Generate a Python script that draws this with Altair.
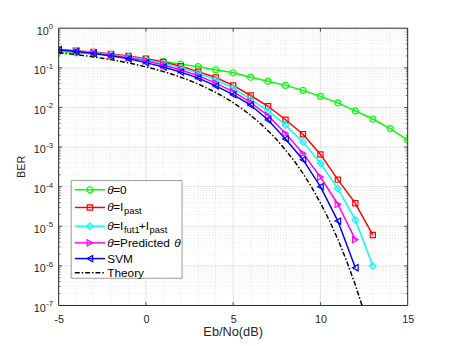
import altair as alt
import pandas as pd

# ---------------- data ----------------
snr_theta0 = [-5, -4, -3, -2, -1, 0, 1, 2, 3, 4, 5, 6, 7, 8, 9, 10, 11, 12, 13, 14, 15]
ber_theta0 = [0.26, 0.24, 0.225, 0.205, 0.185, 0.165, 0.145, 0.124, 0.107, 0.089, 0.075,
              0.058, 0.046, 0.036, 0.027, 0.019, 0.013, 0.0082, 0.0051, 0.0029, 0.0015]

snr_past = [-5, -4, -3, -2, -1, 0, 1, 2, 3, 4, 5, 6, 7, 8, 9, 10, 11, 12, 13]
ber_past = [0.29, 0.27, 0.25, 0.225, 0.2, 0.17, 0.14, 0.11, 0.08, 0.057, 0.036,
            0.02, 0.0107, 0.0049, 0.0021, 6.5e-4, 1.5e-4, 3.8e-5, 6e-6]

snr_fut = [-5, -4, -3, -2, -1, 0, 1, 2, 3, 4, 5, 6, 7, 8, 9, 10, 11, 12, 13]
ber_fut = [0.285, 0.265, 0.245, 0.215, 0.19, 0.16, 0.13, 0.1, 0.073, 0.05, 0.031,
           0.016, 0.0082, 0.0036, 0.00135, 3.9e-4, 8.9e-5, 1.45e-5, 1.0e-6]

snr_pred = [-5, -4, -3, -2, -1, 0, 1, 2, 3, 4, 5, 6, 7, 8, 9, 10, 11, 12]
ber_pred = [0.28, 0.26, 0.235, 0.205, 0.18, 0.15, 0.118, 0.088, 0.063, 0.041, 0.025,
            0.0135, 0.0062, 0.0022, 6.9e-4, 1.75e-4, 3.6e-5, 4.6e-6]

snr_svm = [-5, -4, -3, -2, -1, 0, 1, 2, 3, 4, 5, 6, 7, 8, 9, 10, 11, 12]
ber_svm = [0.285, 0.26, 0.23, 0.2, 0.17, 0.135, 0.105, 0.078, 0.055, 0.035, 0.021,
           0.0115, 0.0048, 0.0016, 4.8e-4, 1.0e-4, 1.35e-5, 9e-7]

theory_snr = [-5, -4.5, -4, -3.5, -3, -2.5, -2, -1.5, -1, -0.5, 0, 0.5, 1, 1.5, 2, 2.5,
              3, 3.5, 4, 4.5, 5, 5.5, 6, 6.5, 7, 7.5, 8, 8.5, 9, 9.5, 10, 10.5, 11,
              11.5, 12, 12.5]
theory_ber = [0.24, 0.228, 0.215, 0.202, 0.188, 0.174, 0.161, 0.147, 0.133, 0.119,
              0.106, 0.093, 0.0806, 0.0688, 0.0579, 0.0479, 0.0389, 0.0308, 0.0239,
              0.018, 0.0132, 0.0093, 0.00635, 0.00415, 0.00259, 0.00153, 8.4e-4,
              4.45e-4, 2.16e-4, 9.6e-5, 3.9e-5, 1.43e-5, 4.7e-6, 1.33e-6, 3.3e-7, 6.9e-8]

x_ticks = [-5, 0, 5, 10, 15]
x_minor = [-4, -3, -2, -1, 1, 2, 3, 4, 6, 7, 8, 9, 11, 12, 13, 14]
y_ticks = [1e-7, 1e-6, 1e-5, 1e-4, 1e-3, 1e-2, 1e-1, 1]
y_exponents = ['-7', '-6', '-5', '-4', '-3', '-2', '-1', '0']
y_minor = [m * 10.0 ** k for k in range(-7, 0) for m in range(2, 10)]

# ---------------- layout ----------------
W, H = 355, 282
FONT = 'Liberation Sans'
AX = '#262626'

xs = alt.Scale(domain=[-5, 15], nice=False, zero=False)
ys = alt.Scale(type='log', domain=[1e-7, 1], nice=False)

xax = alt.Axis(values=x_ticks, labelExpr="'' + datum.value", tickSize=0, grid=False,
               domain=False, labelFontSize=11, labelColor=AX, labelFont=FONT,
               labelPadding=8, labelFlush=False, title='')
yax = alt.Axis(values=y_ticks, labels=False, tickSize=0, grid=False,
               domain=False, title='')


def X(f='x'):
    return alt.X(f + ':Q', scale=xs, axis=xax)


def Y(f='y'):
    return alt.Y(f + ':Q', scale=ys, axis=yax)


one = pd.DataFrame({'a': [0]})
layers = []

# white plot background
layers.append(alt.Chart(one).mark_rect(color='white').encode(
    x=alt.value(0), x2=alt.value(W), y=alt.value(0), y2=alt.value(H)))

# minor grid
layers.append(alt.Chart(pd.DataFrame({'x': x_minor})).mark_rule(
    color='#d9d9d9', strokeWidth=0.7, strokeDash=[1, 2]).encode(
    x=X(), y=alt.value(0), y2=alt.value(H)))
layers.append(alt.Chart(pd.DataFrame({'y': y_minor})).mark_rule(
    color='#d9d9d9', strokeWidth=0.7, strokeDash=[1, 2]).encode(
    y=Y(), x=alt.value(0), x2=alt.value(W)))
# major grid
layers.append(alt.Chart(pd.DataFrame({'x': x_ticks[1:-1]})).mark_rule(
    color='#e3e3e3', strokeWidth=1).encode(x=X(), y=alt.value(0), y2=alt.value(H)))
layers.append(alt.Chart(pd.DataFrame({'y': y_ticks[1:-1]})).mark_rule(
    color='#e3e3e3', strokeWidth=1).encode(y=Y(), x=alt.value(0), x2=alt.value(W)))

# series
series = [
    (snr_theta0, ber_theta0, '#00ff00', 'circle', 38),
    (snr_past, ber_past, '#ff0000', 'square', 28),
    (snr_fut, ber_fut, '#00ffff', 'diamond', 45),
    (snr_pred, ber_pred, '#ff00ff', 'triangle-right', 42),
    (snr_svm, ber_svm, '#0000ff', 'triangle-left', 42),
]
for sx, sy, col, shp, sz in series:
    base = alt.Chart(pd.DataFrame({'x': sx, 'y': sy}))
    layers.append(base.mark_line(color=col, strokeWidth=1.5, clip=True).encode(x=X(), y=Y()))
    layers.append(base.mark_point(shape=shp, size=sz, color=col, filled=False,
                                  strokeWidth=1.2, opacity=1, clip=True).encode(x=X(), y=Y()))

layers.append(alt.Chart(pd.DataFrame({'x': theory_snr, 'y': theory_ber})).mark_line(
    color='black', strokeWidth=1.5, strokeDash=[5, 2, 1.5, 2], clip=True).encode(x=X(), y=Y()))

# inward ticks
TL = 3.5
tx = pd.DataFrame({'x': x_ticks[1:-1]})
layers.append(alt.Chart(tx).mark_rule(color=AX, strokeWidth=0.8).encode(
    x=X(), y=alt.value(H), y2=alt.value(H - TL)))
layers.append(alt.Chart(tx).mark_rule(color=AX, strokeWidth=0.8).encode(
    x=X(), y=alt.value(0), y2=alt.value(TL)))
ty = pd.DataFrame({'y': y_ticks[1:-1]})
layers.append(alt.Chart(ty).mark_rule(color=AX, strokeWidth=0.8).encode(
    y=Y(), x=alt.value(0), x2=alt.value(TL)))
layers.append(alt.Chart(ty).mark_rule(color=AX, strokeWidth=0.8).encode(
    y=Y(), x=alt.value(W - TL), x2=alt.value(W)))
tym = pd.DataFrame({'y': y_minor})
layers.append(alt.Chart(tym).mark_rule(color=AX, strokeWidth=0.6).encode(
    y=Y(), x=alt.value(0), x2=alt.value(2)))
layers.append(alt.Chart(tym).mark_rule(color=AX, strokeWidth=0.6).encode(
    y=Y(), x=alt.value(W - 2), x2=alt.value(W)))

# box
layers.append(alt.Chart(one).mark_rect(fillOpacity=0, stroke=AX, strokeWidth=1).encode(
    x=alt.value(0), x2=alt.value(W), y=alt.value(0), y2=alt.value(H)))

# y tick labels: "10" with a superscript exponent
ylab = pd.DataFrame({'y': y_ticks, 'e': y_exponents})
ylab_neg = ylab[ylab['e'] != '0']
ylab_zero = ylab[ylab['e'] == '0']
layers.append(alt.Chart(ylab_neg).mark_text(text='10', font=FONT, fontSize=11, color=AX,
                                            align='right', baseline='middle', dy=3.5).encode(
    y=Y(), x=alt.value(-13.2)))
layers.append(alt.Chart(ylab_zero).mark_text(text='10', font=FONT, fontSize=11, color=AX,
                                             align='right', baseline='middle', dy=3.5).encode(
    y=Y(), x=alt.value(-10.0)))
layers.append(alt.Chart(ylab).mark_text(font=FONT, fontSize=8, color=AX,
                                        align='right', baseline='middle', dy=-1).encode(
    y=Y(), x=alt.value(-5.6), text='e:N'))

# axis titles
layers.append(alt.Chart(one).mark_text(text='Eb/No(dB)', font=FONT, fontSize=13, color=AX,
                                       baseline='middle', align='center').encode(
    x=alt.value(W / 2), y=alt.value(H + 27)))
layers.append(alt.Chart(one).mark_text(text='BER', font=FONT, fontSize=11, color=AX,
                                       baseline='middle', align='center', angle=270).encode(
    x=alt.value(-37.5), y=alt.value(H / 2)))

# legend
LX0, LX1, LY0, LY1 = 12.8, 125.5, 155, 254.3
layers.append(alt.Chart(one).mark_rect(color='white', stroke='#808080', strokeWidth=0.8).encode(
    x=alt.value(LX0), x2=alt.value(LX1), y=alt.value(LY0), y2=alt.value(LY1)))

rows_y = [164.3, 182.3, 201.3, 218.3, 234.3, 248.8]
leg_styles = [('#00ff00', 'circle', 38), ('#ff0000', 'square', 28), ('#00ffff', 'diamond', 45),
              ('#ff00ff', 'triangle-right', 42), ('#0000ff', 'triangle-left', 42), ('black', None, 0)]
FS, SS = 12, 9.5
leg_text = [
    [('θ', 49.5, 0, FS, True), ('=0', 55.5, 0, FS, False)],
    [('θ', 49.5, -0.5, FS, True), ('=I', 55.5, -0.5, FS, False), ('past', 66.5, 4, SS, False)],
    [('θ', 49.5, -0.5, FS, True), ('=I', 55.5, -0.5, FS, False), ('fut1', 66.5, 4, SS, False),
     ('+I', 81.5, -0.5, FS, False), ('past', 92.5, 4, SS, False)],
    [('θ', 49.5, 0, FS, True), ('=Predicted', 55.5, 0, FS, False), ('θ', 117.5, 0, FS, True)],
    [('SVM', 49.5, 0, FS, False)],
    [('Theory', 49.5, 0, FS, False)],
]
for ry, (col, shp, sz), pieces in zip(rows_y, leg_styles, leg_text):
    if shp is None:
        layers.append(alt.Chart(one).mark_rule(color=col, strokeWidth=1.5,
                                               strokeDash=[5, 2, 1.5, 2]).encode(
            x=alt.value(16.5), x2=alt.value(47.2), y=alt.value(ry)))
    else:
        layers.append(alt.Chart(one).mark_rule(color=col, strokeWidth=1.5).encode(
            x=alt.value(16.5), x2=alt.value(47.2), y=alt.value(ry)))
        layers.append(alt.Chart(one).mark_point(shape=shp, size=sz, color=col, filled=False,
                                                strokeWidth=1.2, opacity=1).encode(
            x=alt.value(31.8), y=alt.value(ry)))
    for txt, tx_, dy, fs, it in pieces:
        kw = dict(text=txt, font=FONT, fontSize=fs, color='black', align='left',
                  baseline='middle')
        if it:
            kw['fontStyle'] = 'italic'
        layers.append(alt.Chart(one).mark_text(**kw).encode(
            x=alt.value(tx_), y=alt.value(ry + dy)))

chart = alt.layer(*layers).properties(
    width=W, height=H, autosize='none',
    padding={'left': 51.5, 'top': 17.7, 'right': 42, 'bottom': 36},
    background='white',
).configure_view(stroke='transparent')

chart.save('out.html', embed_options={'renderer': 'svg', 'actions': False})
